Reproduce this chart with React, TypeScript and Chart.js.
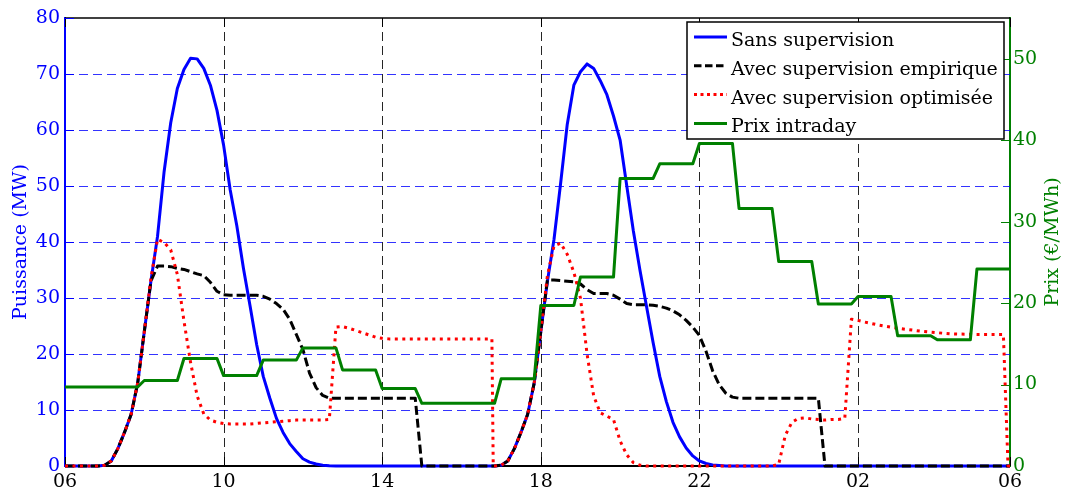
import React, { useEffect, useRef } from "react";
import { Chart, registerables } from "chart.js";

Chart.register(...registerables);

// x values are minutes after 06:00 (10-minute samples, last sample 05:50)
const X_TICKS = [0, 240, 480, 720, 960, 1200, 1430];
const X_TICK_LABELS = ["06", "10", "14", "18", "22", "02", "06"];
const POWER_TICKS = [0, 10, 20, 30, 40, 50, 60, 70, 80];
const PRICE_TICKS = [0, 10, 20, 30, 40, 50];

// Sans supervision (MW)
const SANS_T = [
  0, 50, 60, 70, 80, 90, 100, 110, 120, 130, 140, 150, 160, 170, 180, 190, 200, 210, 220, 230,
  240, 250, 260, 270, 280, 290, 300, 310, 320, 330, 340, 350, 360, 370, 380, 390, 400, 410,
  650, 660, 670, 680, 690, 700, 710, 720, 730, 740, 750, 760, 770, 780, 790, 800, 810, 820,
  830, 840, 850, 860, 870, 880, 890, 900, 910, 920, 930, 940, 950, 960, 970, 980, 990, 1000, 1430,
];
const SANS_V = [
  0, 0, 0.15, 0.9, 3.1, 6, 9.2, 14.8, 24, 33, 41, 52.6, 61.3, 67.4, 70.8, 72.8, 72.7, 71, 68, 63.5,
  57.3, 49.3, 42.9, 35.3, 28.6, 21.7, 16, 12.1, 8.5, 6, 4, 2.6, 1.3, 0.7, 0.35, 0.15, 0.05, 0,
  0, 0.15, 0.9, 3.1, 6, 9.2, 14.8, 24, 33, 40.5, 50.5, 61, 68, 70.4, 71.8, 71, 68.8, 66.3,
  62.5, 58.2, 50.1, 42, 35, 28.5, 22, 16, 11.5, 7.8, 5.2, 3.2, 1.8, 0.9, 0.45, 0.2, 0.1, 0, 0,
];

// Avec supervision empirique (MW)
const EMP_T = [
  0, 50, 60, 70, 80, 90, 100, 110, 120, 130, 140, 150, 160, 170, 180, 190, 200, 210, 220, 230,
  240, 250, 260, 270, 280, 290, 300, 310, 320, 330, 340, 350, 360, 370, 380, 390, 400, 530, 540,
  650, 660, 670, 680, 690, 700, 710, 720, 730, 740, 750, 760, 770, 780, 790, 800, 810, 820, 830,
  840, 850, 860, 870, 880, 890, 900, 910, 920, 930, 940, 950, 960, 970, 980, 990, 1000, 1010,
  1020, 1140, 1150, 1430,
];
const EMP_V = [
  0, 0, 0.15, 0.9, 3.1, 6, 9.2, 14.8, 24, 33, 35.7, 35.7, 35.6, 35.3, 35.1, 34.7, 34.3, 34.0, 32.8, 31.2,
  30.6, 30.5, 30.5, 30.5, 30.5, 30.5, 30.3, 29.8, 29.0, 28.0, 26.2, 23.5, 20.8, 16.6, 14.0, 12.6, 12.1, 12.1, 0,
  0, 0.15, 0.9, 3.1, 6, 9.2, 14.8, 24, 33.2, 33.2, 33.1, 33.0, 32.9, 32.5, 31.5, 30.8, 30.8, 30.8, 30.5,
  29.8, 29.0, 28.8, 28.8, 28.8, 28.7, 28.5, 28.2, 27.7, 27.0, 26.0, 24.8, 23.3, 20.5, 17.0, 14.5, 13.0, 12.3,
  12.1, 12.1, 0, 0,
];

// Avec supervision optimisée (MW)
const OPT_T = [
  0, 50, 60, 70, 80, 90, 100, 110, 120, 130, 140, 150, 160, 170, 180, 190, 200, 210, 220, 230,
  240, 250, 260, 270, 280, 290, 300, 310, 320, 330, 340, 350, 360, 370, 380, 390, 400, 410, 420,
  430, 440, 450, 460, 470, 480, 490, 646, 648,
  650, 660, 670, 680, 690, 700, 710, 720, 730, 740, 750, 760, 770, 780, 790, 800, 810, 820, 830,
  840, 850, 860, 870, 880, 1070, 1080, 1090, 1100, 1110, 1120, 1130, 1140, 1150, 1160, 1170, 1180,
  1190, 1200, 1210, 1230, 1260, 1300, 1340, 1380, 1420, 1427, 1430,
];
const OPT_V = [
  0, 0, 0.15, 0.9, 3.1, 6, 9.2, 14.8, 24, 33.5, 40.5, 39.9, 38.6, 34.2, 25.9, 18.5, 12.5, 9.3, 8.2, 7.8,
  7.6, 7.5, 7.5, 7.5, 7.5, 7.6, 7.7, 7.8, 7.9, 8.0, 8.1, 8.2, 8.2, 8.2, 8.2, 8.2, 8.3, 24.8, 24.9,
  24.6, 24.2, 23.8, 23.4, 23.0, 22.8, 22.7, 22.7, 0,
  0, 0.15, 0.9, 3.1, 6, 9.2, 14.8, 24, 34, 39.3, 39.8, 37.8, 34.6, 30, 20, 12.5, 9.5, 8.9, 8.3,
  4.5, 2.0, 0.6, 0.15, 0, 0, 0.3, 5.5, 7.8, 8.5, 8.6, 8.4, 8.3, 8.2, 8.3, 8.3, 8.5,
  26.2, 26.0, 25.7, 25.2, 24.6, 24.0, 23.6, 23.5, 23.5, 0, 0,
];

// Prix intraday (€/MWh), one value per hour from 06h to 05h
const PRICE_HOURLY = [
  9.7, 9.7, 10.5, 13.2, 11.1, 13.0, 14.5, 11.8, 9.5, 7.7, 7.7, 10.7,
  19.7, 23.2, 35.3, 37.1, 39.6, 31.6, 25.1, 19.9, 20.8, 16.0, 15.5, 24.2,
];

const SERIES_LABELS = [
  "Sans supervision",
  "Avec supervision empirique",
  "Avec supervision optimisée",
  "Prix intraday",
];
const LEFT_TITLE = "Puissance (MW)";
const RIGHT_TITLE = "Prix (€/MWh)";

const BLUE = "#0000ff";
const GREEN = "#008000";
const RED = "#ff0000";
const BLACK = "#000000";
const FONT = "'DejaVu Serif', serif";

const pairs = (t: number[], v: number[]) => t.map((x, i) => ({ x, y: v[i] }));

const decorPlugin = {
  id: "decor",
  beforeDatasetsDraw(chart: any) {
    const { ctx, chartArea, scales } = chart;
    const { left, right, top, bottom } = chartArea;
    const x = scales.x;
    const y = scales.y;
    const y1 = scales.y1;
    ctx.save();
    ctx.lineWidth = 1;
    ctx.setLineDash([9, 5]);
    ctx.strokeStyle = "rgba(0,0,255,0.8)";
    for (const v of POWER_TICKS) {
      if (v <= 0 || v >= 80) continue;
      const py = Math.round(y.getPixelForValue(v)) + 0.5;
      ctx.beginPath();
      ctx.moveTo(left, py);
      ctx.lineTo(right, py);
      ctx.stroke();
    }
    ctx.strokeStyle = "rgba(0,0,0,0.85)";
    for (const v of X_TICKS) {
      if (v <= 0 || v >= 1430) continue;
      const px = Math.round(x.getPixelForValue(v)) + 0.5;
      ctx.beginPath();
      ctx.moveTo(px, top);
      ctx.lineTo(px, bottom);
      ctx.stroke();
    }
    ctx.setLineDash([]);
    // top border
    ctx.strokeStyle = BLACK;
    ctx.lineWidth = 1.5;
    ctx.beginPath();
    ctx.moveTo(left, top);
    ctx.lineTo(right, top);
    ctx.stroke();
    // inward ticks
    const tl = 9;
    ctx.lineWidth = 1;
    for (const v of X_TICKS) {
      const px = Math.round(x.getPixelForValue(v)) + 0.5;
      ctx.beginPath();
      ctx.moveTo(px, bottom);
      ctx.lineTo(px, bottom - tl);
      ctx.moveTo(px, top);
      ctx.lineTo(px, top + tl);
      ctx.stroke();
    }
    ctx.strokeStyle = BLUE;
    for (const v of POWER_TICKS) {
      const py = Math.round(y.getPixelForValue(v)) + 0.5;
      ctx.beginPath();
      ctx.moveTo(left, py);
      ctx.lineTo(left + tl, py);
      ctx.stroke();
    }
    ctx.strokeStyle = GREEN;
    for (const v of PRICE_TICKS) {
      const py = Math.round(y1.getPixelForValue(v)) + 0.5;
      ctx.beginPath();
      ctx.moveTo(right, py);
      ctx.lineTo(right - tl, py);
      ctx.stroke();
    }
    ctx.restore();
  },
  afterDraw(chart: any) {
    const { ctx, chartArea } = chart;
    ctx.save();
    // axis titles
    ctx.font = `19px ${FONT}`;
    ctx.textAlign = "center";
    ctx.textBaseline = "middle";
    const cy = (chartArea.top + chartArea.bottom) / 2;
    ctx.fillStyle = BLUE;
    ctx.save();
    ctx.translate(21, cy);
    ctx.rotate(-Math.PI / 2);
    ctx.fillText(LEFT_TITLE, 0, 0);
    ctx.restore();
    ctx.fillStyle = GREEN;
    ctx.save();
    ctx.translate(1053, cy);
    ctx.rotate(-Math.PI / 2);
    ctx.fillText(RIGHT_TITLE, 0, 0);
    ctx.restore();

    // legend box
    const L = 687, T = 22, R = 1004, B = 139;
    ctx.fillStyle = "#ffffff";
    ctx.fillRect(L, T, R - L, B - T);
    ctx.strokeStyle = BLACK;
    ctx.lineWidth = 1.5;
    ctx.strokeRect(L, T, R - L, B - T);
    const styles = [
      { color: BLUE, dash: [] as number[] },
      { color: BLACK, dash: [7.5, 3.5] },
      { color: RED, dash: [3, 3.5] },
      { color: GREEN, dash: [] as number[] },
    ];
    ctx.textAlign = "left";
    ctx.textBaseline = "alphabetic";
    SERIES_LABELS.forEach((label, i) => {
      const ry = 37 + i * 28.8;
      ctx.strokeStyle = styles[i].color;
      ctx.lineWidth = 3;
      ctx.setLineDash(styles[i].dash);
      ctx.beginPath();
      ctx.moveTo(694, ry);
      ctx.lineTo(727, ry);
      ctx.stroke();
      ctx.setLineDash([]);
      ctx.fillStyle = BLACK;
      ctx.fillText(label, 731, ry + 9);
    });
    ctx.restore();
  },
};

export default function App() {
  const ref = useRef<HTMLCanvasElement | null>(null);

  useEffect(() => {
    if (!ref.current) return;
    Chart.defaults.font.family = FONT;
    Chart.defaults.font.size = 19;

    const priceData = PRICE_HOURLY.flatMap((p, n) => [
      { x: n * 60, y: p },
      { x: n * 60 + 50, y: p },
    ]);

    const chart = new Chart(ref.current, {
      type: "line",
      data: {
        datasets: [
          {
            label: SERIES_LABELS[0],
            data: pairs(SANS_T, SANS_V),
            borderColor: BLUE,
            borderWidth: 3,
            yAxisID: "y",
            order: 4,
            clip: 6,
          },
          {
            label: SERIES_LABELS[1],
            data: pairs(EMP_T, EMP_V),
            borderColor: BLACK,
            borderWidth: 3,
            borderDash: [9, 4],
            yAxisID: "y",
            order: 3,
            clip: 6,
          },
          {
            label: SERIES_LABELS[2],
            data: pairs(OPT_T, OPT_V),
            borderColor: RED,
            borderWidth: 3,
            borderDash: [3, 4.5],
            yAxisID: "y",
            order: 2,
            clip: 6,
          },
          {
            label: SERIES_LABELS[3],
            data: priceData,
            borderColor: GREEN,
            borderWidth: 3,
            yAxisID: "y1",
            order: 1,
            clip: 6,
          },
        ] as any,
      },
      options: {
        responsive: false,
        animation: false,
        events: [],
        elements: {
          point: { radius: 0 },
          line: { tension: 0, borderCapStyle: "butt", borderJoinStyle: "round" },
        },
        layout: { padding: { top: 18, left: 0, right: 0, bottom: 0 } },
        plugins: {
          legend: { display: false },
          tooltip: { enabled: false },
          title: { display: false },
        },
        scales: {
          x: {
            type: "linear",
            min: 0,
            max: 1430,
            afterBuildTicks: (s: any) => {
              s.ticks = X_TICKS.map((v) => ({ value: v }));
            },
            afterFit: (s: any) => {
              s.height = 27;
            },
            ticks: {
              autoSkip: false,
              maxRotation: 0,
              minRotation: 0,
              padding: 5,
              color: BLACK,
              font: { family: FONT, size: 19 },
              callback: (v: any) => {
                const i = X_TICKS.indexOf(Number(v));
                return i >= 0 ? X_TICK_LABELS[i] : "";
              },
            },
            grid: { display: false, drawTicks: false },
            border: { display: true, color: BLACK, width: 2 },
          },
          y: {
            type: "linear",
            position: "left",
            min: 0,
            max: 80,
            afterBuildTicks: (s: any) => {
              s.ticks = POWER_TICKS.map((v) => ({ value: v }));
            },
            afterFit: (s: any) => {
              s.width = 65;
            },
            ticks: {
              padding: 5,
              color: BLUE,
              font: { family: FONT, size: 19 },
            },
            grid: { display: false, drawTicks: false },
            border: { display: true, color: BLUE, width: 2 },
          },
          y1: {
            type: "linear",
            position: "right",
            min: 0,
            max: 55,
            afterBuildTicks: (s: any) => {
              s.ticks = PRICE_TICKS.map((v) => ({ value: v }));
            },
            afterFit: (s: any) => {
              s.width = 56;
            },
            ticks: {
              padding: 3,
              color: GREEN,
              font: { family: FONT, size: 19 },
            },
            grid: { display: false, drawTicks: false },
            border: { display: true, color: GREEN, width: 2 },
          },
        },
      } as any,
      plugins: [decorPlugin],
    });

    return () => chart.destroy();
  }, []);

  return (
    <canvas
      ref={ref}
      width={1066}
      height={493}
      style={{ position: "absolute", left: 0, top: 0, display: "block" }}
    />
  );
}
